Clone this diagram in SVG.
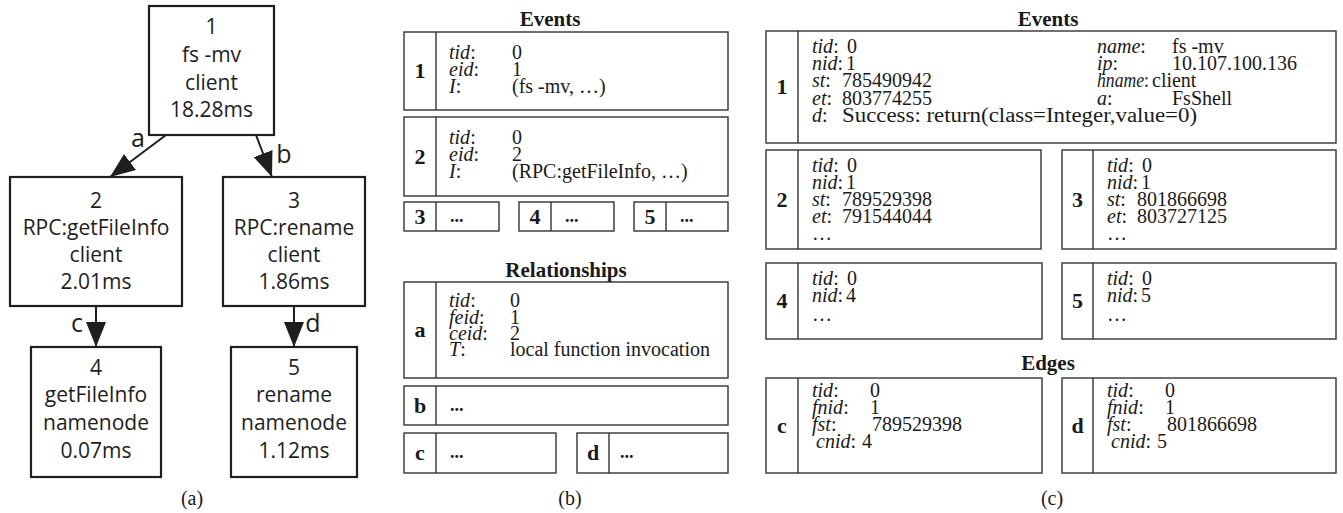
<svg xmlns="http://www.w3.org/2000/svg" width="1343" height="513" viewBox="0 0 1343 513">
  <style>
    .nd { fill: #fff; stroke: #1e1e1e; stroke-width: 2.2; }
    .sn { font-family: "Open Sans", "Noto Sans", sans-serif; font-size: 21px; fill: #1e1e1e; text-anchor: middle; }
    .el { font-family: "Open Sans", "Noto Sans", sans-serif; font-size: 25px; fill: #1e1e1e; text-anchor: middle; }
    .edge { stroke: #1e1e1e; stroke-width: 2; fill: none; marker-end: url(#head); }
    .bx { fill: #fff; stroke: #333; stroke-width: 1.4; }
    .dv { stroke: #333; stroke-width: 1.4; }
    .t { font-family: "Liberation Serif", "Times New Roman", serif; font-size: 20px; fill: #1a1a1a; }
    .i { font-style: italic; }
    .dots { font-family: "Liberation Serif", "Times New Roman", serif; font-size: 18px; font-weight: bold; fill: #1a1a1a; }
    .lb { font-family: "Liberation Serif", "Times New Roman", serif; font-size: 22px; font-weight: bold; fill: #1a1a1a; text-anchor: middle; }
    .hd { font-family: "Liberation Serif", "Times New Roman", serif; font-size: 21px; font-weight: bold; fill: #1a1a1a; text-anchor: middle; }
    .cap { font-family: "Liberation Serif", "DejaVu Serif", serif; font-size: 20px; fill: #1a1a1a; text-anchor: middle; }
  </style>
  <defs>
    <marker id="head" markerUnits="userSpaceOnUse" markerWidth="26" markerHeight="22" refX="25" refY="10" orient="auto">
      <path d="M0,0 L25,10 L0,20 Z" fill="#1e1e1e"/>
    </marker>
  </defs>
  <rect width="1343" height="513" fill="#fff"/>

  <!-- (a) call tree -->
  <g id="connectors">
    <line class="edge" x1="166" y1="135" x2="110" y2="177"/>
    <line class="edge" x1="256" y1="135" x2="272" y2="177"/>
    <line class="edge" x1="96" y1="306" x2="96" y2="347"/>
    <line class="edge" x1="294" y1="306" x2="294" y2="347"/>
    <text class="el" x="138" y="147">a</text>
    <text class="el" x="284" y="163">b</text>
    <text class="el" x="77" y="332">c</text>
    <text class="el" x="313" y="332">d</text>
  </g>
  <g id="node1">
    <rect class="nd" x="149" y="6" width="125" height="129"/>
    <text class="sn" x="211.5" y="34">1</text>
    <text class="sn" x="211.5" y="62">fs -mv</text>
    <text class="sn" x="211.5" y="90">client</text>
    <text class="sn" x="211.5" y="117">18.28ms</text>
  </g>
  <g id="node2">
    <rect class="nd" x="10" y="177" width="172" height="129"/>
    <text class="sn" x="96" y="208">2</text>
    <text class="sn" x="96" y="235">RPC:getFileInfo</text>
    <text class="sn" x="96" y="262">client</text>
    <text class="sn" x="96" y="289">2.01ms</text>
  </g>
  <g id="node3">
    <rect class="nd" x="223" y="177" width="142" height="129"/>
    <text class="sn" x="294" y="208">3</text>
    <text class="sn" x="294" y="235">RPC:rename</text>
    <text class="sn" x="294" y="262">client</text>
    <text class="sn" x="294" y="289">1.86ms</text>
  </g>
  <g id="node4">
    <rect class="nd" x="31" y="347" width="130" height="130"/>
    <text class="sn" x="96" y="375">4</text>
    <text class="sn" x="96" y="402">getFileInfo</text>
    <text class="sn" x="96" y="430">namenode</text>
    <text class="sn" x="96" y="458">0.07ms</text>
  </g>
  <g id="node5">
    <rect class="nd" x="231" y="347" width="126" height="130"/>
    <text class="sn" x="294" y="375">5</text>
    <text class="sn" x="294" y="402">rename</text>
    <text class="sn" x="294" y="430">namenode</text>
    <text class="sn" x="294" y="458">1.12ms</text>
  </g>
  <text class="cap" x="192" y="505">(a)</text>

  <!-- (b) events and relationships -->
  <g id="b-events">
    <text class="hd" x="550" y="26">Events</text>
    <g id="b-event1">
      <rect class="bx" x="404" y="32" width="324" height="78"/>
      <line class="dv" x1="436" y1="32" x2="436" y2="110"/>
      <text class="lb" x="420" y="78">1</text>
      <text class="t" x="449" y="59"><tspan class="i">tid</tspan>:</text><text class="t" x="512" y="59">0</text>
      <text class="t" x="449" y="76"><tspan class="i">eid</tspan>:</text><text class="t" x="512" y="76">1</text>
      <text class="t" x="449" y="93"><tspan class="i">I</tspan>:</text><text class="t" x="512" y="93">(fs -mv, …)</text>
    </g>
    <g id="b-event2">
      <rect class="bx" x="404" y="117" width="324" height="79"/>
      <line class="dv" x1="436" y1="117" x2="436" y2="196"/>
      <text class="lb" x="420" y="164">2</text>
      <text class="t" x="449" y="144"><tspan class="i">tid</tspan>:</text><text class="t" x="512" y="144">0</text>
      <text class="t" x="449" y="161"><tspan class="i">eid</tspan>:</text><text class="t" x="512" y="161">2</text>
      <text class="t" x="449" y="178"><tspan class="i">I</tspan>:</text><text class="t" x="512" y="178">(RPC:getFileInfo, …)</text>
    </g>
    <g id="b-event3">
      <rect class="bx" x="404" y="202" width="95" height="29"/>
      <line class="dv" x1="436" y1="202" x2="436" y2="231"/>
      <text class="lb" x="420" y="224">3</text>
      <text class="dots" x="450" y="222">...</text>
    </g>
    <g id="b-event4">
      <rect class="bx" x="519" y="202" width="95" height="29"/>
      <line class="dv" x1="551" y1="202" x2="551" y2="231"/>
      <text class="lb" x="535" y="224">4</text>
      <text class="dots" x="565" y="222">...</text>
    </g>
    <g id="b-event5">
      <rect class="bx" x="634" y="202" width="94" height="29"/>
      <line class="dv" x1="666" y1="202" x2="666" y2="231"/>
      <text class="lb" x="650" y="224">5</text>
      <text class="dots" x="680" y="222">...</text>
    </g>
  </g>
  <g id="b-relationships">
    <text class="hd" x="566" y="277">Relationships</text>
    <g id="b-rel-a">
      <rect class="bx" x="404" y="282" width="324" height="96"/>
      <line class="dv" x1="436" y1="282" x2="436" y2="378"/>
      <text class="lb" x="420" y="337">a</text>
      <text class="t" x="449" y="307"><tspan class="i">tid</tspan>:</text><text class="t" x="510" y="307">0</text>
      <text class="t" x="449" y="324"><tspan class="i">feid</tspan>:</text><text class="t" x="510" y="324">1</text>
      <text class="t" x="449" y="340"><tspan class="i">ceid</tspan>:</text><text class="t" x="510" y="340">2</text>
      <text class="t" x="449" y="356"><tspan class="i">T</tspan>:</text><text class="t" x="510" y="356">local function invocation</text>
    </g>
    <g id="b-rel-b">
      <rect class="bx" x="404" y="386" width="324" height="39"/>
      <line class="dv" x1="436" y1="386" x2="436" y2="425"/>
      <text class="lb" x="420" y="413">b</text>
      <text class="dots" x="450" y="411">...</text>
    </g>
    <g id="b-rel-c">
      <rect class="bx" x="404" y="433" width="152" height="40"/>
      <line class="dv" x1="436" y1="433" x2="436" y2="473"/>
      <text class="lb" x="420" y="460">c</text>
      <text class="dots" x="450" y="458">...</text>
    </g>
    <g id="b-rel-d">
      <rect class="bx" x="577" y="433" width="151" height="40"/>
      <line class="dv" x1="609" y1="433" x2="609" y2="473"/>
      <text class="lb" x="593" y="460">d</text>
      <text class="dots" x="620" y="458">...</text>
    </g>
  </g>
  <text class="cap" x="570" y="505">(b)</text>

  <!-- (c) stored events and edges -->
  <g id="c-events">
    <text class="hd" x="1048" y="26">Events</text>
    <g id="c-event1">
      <rect class="bx" x="766" y="31" width="570" height="112"/>
      <line class="dv" x1="798" y1="31" x2="798" y2="143"/>
      <text class="lb" x="782" y="94">1</text>
      <text class="t" x="812" y="53"><tspan class="i">tid</tspan>:</text><text class="t" x="847" y="53">0</text>
      <text class="t" x="812" y="70"><tspan class="i">nid</tspan>:</text><text class="t" x="846" y="70">1</text>
      <text class="t" x="812" y="87"><tspan class="i">st</tspan>:</text><text class="t" x="842" y="87">785490942</text>
      <text class="t" x="812" y="105"><tspan class="i">et</tspan>:</text><text class="t" x="842" y="105">803774255</text>
      <text class="t" x="812" y="122"><tspan class="i">d</tspan>:</text><text class="t" x="842" y="122" textLength="355" lengthAdjust="spacingAndGlyphs">Success: return(class=Integer,value=0)</text>
      <text class="t" x="1097" y="53"><tspan class="i">name</tspan>:</text><text class="t" x="1172" y="53">fs -mv</text>
      <text class="t" x="1097" y="70"><tspan class="i">ip</tspan>:</text><text class="t" x="1172" y="70">10.107.100.136</text>
      <text class="t" x="1097" y="87" textLength="52" lengthAdjust="spacingAndGlyphs"><tspan class="i">hname</tspan>:</text><text class="t" x="1152" y="87">client</text>
      <text class="t" x="1097" y="105"><tspan class="i">a</tspan>:</text><text class="t" x="1172" y="105">FsShell</text>
    </g>
    <g id="c-event2">
      <rect class="bx" x="766" y="150" width="275" height="99"/>
      <line class="dv" x1="798" y1="150" x2="798" y2="249"/>
      <text class="lb" x="782" y="207">2</text>
      <text class="t" x="812" y="172"><tspan class="i">tid</tspan>:</text><text class="t" x="847" y="172">0</text>
      <text class="t" x="812" y="189"><tspan class="i">nid</tspan>:</text><text class="t" x="846" y="189">1</text>
      <text class="t" x="812" y="206"><tspan class="i">st</tspan>:</text><text class="t" x="842" y="206">789529398</text>
      <text class="t" x="812" y="223"><tspan class="i">et</tspan>:</text><text class="t" x="842" y="223">791544044</text>
      <text class="t" x="812" y="240">…</text>
    </g>
    <g id="c-event3">
      <rect class="bx" x="1062" y="150" width="274" height="99"/>
      <line class="dv" x1="1093" y1="150" x2="1093" y2="249"/>
      <text class="lb" x="1077.5" y="207">3</text>
      <text class="t" x="1107" y="172"><tspan class="i">tid</tspan>:</text><text class="t" x="1142" y="172">0</text>
      <text class="t" x="1107" y="189"><tspan class="i">nid</tspan>:</text><text class="t" x="1141" y="189">1</text>
      <text class="t" x="1107" y="206"><tspan class="i">st</tspan>:</text><text class="t" x="1137" y="206">801866698</text>
      <text class="t" x="1107" y="223"><tspan class="i">et</tspan>:</text><text class="t" x="1137" y="223">803727125</text>
      <text class="t" x="1107" y="240">…</text>
    </g>
    <g id="c-event4">
      <rect class="bx" x="766" y="263" width="276" height="76"/>
      <line class="dv" x1="798" y1="263" x2="798" y2="339"/>
      <text class="lb" x="782" y="308">4</text>
      <text class="t" x="812" y="285"><tspan class="i">tid</tspan>:</text><text class="t" x="847" y="285">0</text>
      <text class="t" x="812" y="302"><tspan class="i">nid</tspan>:</text><text class="t" x="846" y="302">4</text>
      <text class="t" x="812" y="321">…</text>
    </g>
    <g id="c-event5">
      <rect class="bx" x="1062" y="263" width="274" height="76"/>
      <line class="dv" x1="1093" y1="263" x2="1093" y2="339"/>
      <text class="lb" x="1077.5" y="308">5</text>
      <text class="t" x="1107" y="285"><tspan class="i">tid</tspan>:</text><text class="t" x="1142" y="285">0</text>
      <text class="t" x="1107" y="302"><tspan class="i">nid</tspan>:</text><text class="t" x="1141" y="302">5</text>
      <text class="t" x="1107" y="321">…</text>
    </g>
  </g>
  <g id="c-edges">
    <text class="hd" x="1048" y="370">Edges</text>
    <g id="c-edge-c">
      <rect class="bx" x="766" y="378" width="276" height="95"/>
      <line class="dv" x1="798" y1="378" x2="798" y2="473"/>
      <text class="lb" x="782" y="433">c</text>
      <text class="t" x="812" y="397"><tspan class="i">tid</tspan>:</text><text class="t" x="870" y="397">0</text>
      <text class="t" x="812" y="414"><tspan class="i">fnid</tspan>:</text><text class="t" x="870" y="414">1</text>
      <text class="t" x="812" y="431"><tspan class="i">fst</tspan>:</text><text class="t" x="872" y="431">789529398</text>
      <text class="t" x="816" y="448"><tspan class="i">cnid</tspan>:</text><text class="t" x="862" y="448">4</text>
    </g>
    <g id="c-edge-d">
      <rect class="bx" x="1062" y="378" width="274" height="95"/>
      <line class="dv" x1="1093" y1="378" x2="1093" y2="473"/>
      <text class="lb" x="1077.5" y="433">d</text>
      <text class="t" x="1107" y="397"><tspan class="i">tid</tspan>:</text><text class="t" x="1165" y="397">0</text>
      <text class="t" x="1107" y="414"><tspan class="i">fnid</tspan>:</text><text class="t" x="1165" y="414">1</text>
      <text class="t" x="1107" y="431"><tspan class="i">fst</tspan>:</text><text class="t" x="1167" y="431">801866698</text>
      <text class="t" x="1111" y="448"><tspan class="i">cnid</tspan>:</text><text class="t" x="1157" y="448">5</text>
    </g>
  </g>
  <text class="cap" x="1052" y="505">(c)</text>
</svg>
